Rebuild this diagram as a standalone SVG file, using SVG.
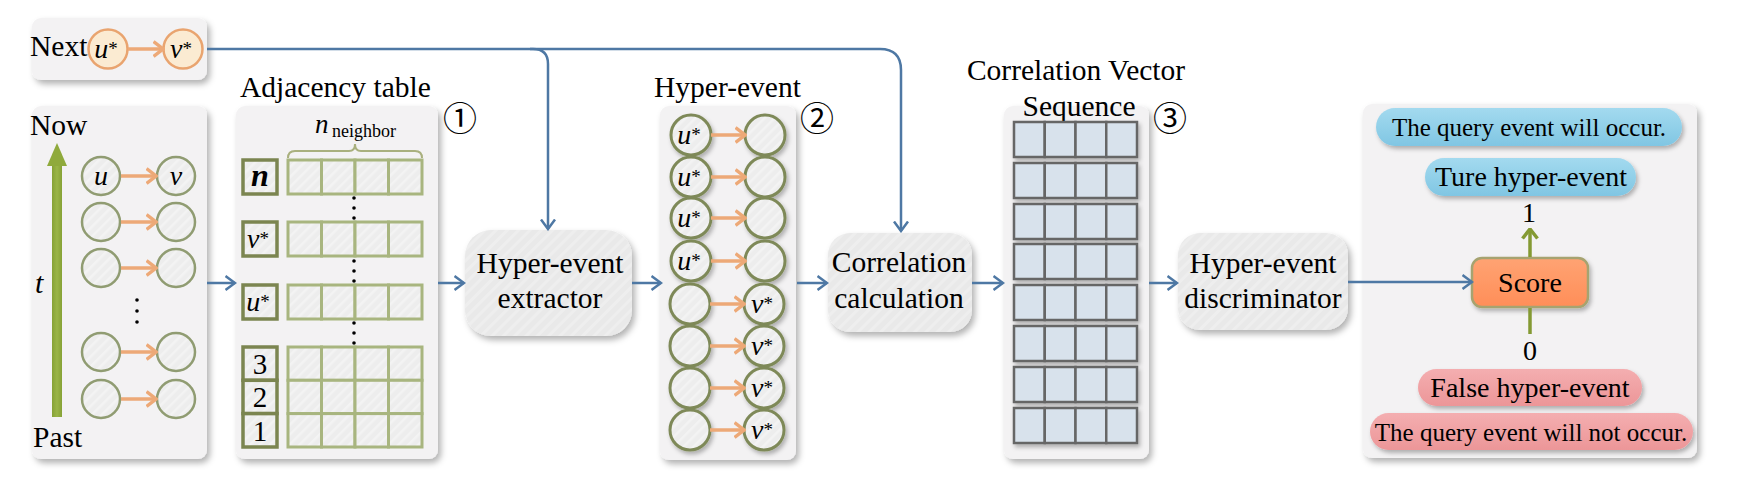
<svg xmlns="http://www.w3.org/2000/svg" width="1748" height="498" viewBox="0 0 1748 498" font-family="'Liberation Serif', 'Times New Roman', Times, serif">
<defs>
<filter id="sh" x="-20%" y="-20%" width="140%" height="140%"><feDropShadow dx="3" dy="4" stdDeviation="3" flood-color="#000" flood-opacity="0.3"/></filter>
<filter id="sh2" x="-30%" y="-30%" width="160%" height="160%"><feDropShadow dx="2" dy="3" stdDeviation="2" flood-color="#000" flood-opacity="0.28"/></filter>
<pattern id="hatch" patternUnits="userSpaceOnUse" width="7" height="7" patternTransform="rotate(45)">
<rect width="7" height="7" fill="#EDEDED"/><rect width="2.5" height="7" fill="#F3F3F3"/>
</pattern>
<pattern id="hatchB" patternUnits="userSpaceOnUse" width="8" height="8" patternTransform="rotate(45)">
<rect width="8" height="8" fill="#E9E9E9"/><rect width="3" height="8" fill="#EEEEEE"/>
</pattern>
<linearGradient id="blueG" x1="0" y1="0" x2="0" y2="1"><stop offset="0" stop-color="#A3DAEF"/><stop offset="1" stop-color="#80C6E3"/></linearGradient>
<linearGradient id="pinkG" x1="0" y1="0" x2="0" y2="1"><stop offset="0" stop-color="#F4AEB0"/><stop offset="1" stop-color="#EC9698"/></linearGradient>
<linearGradient id="orG" x1="0" y1="0" x2="0" y2="1"><stop offset="0" stop-color="#FFA373"/><stop offset="1" stop-color="#FF8E58"/></linearGradient>
<linearGradient id="grG" x1="0" y1="0" x2="1" y2="0"><stop offset="0" stop-color="#86A236"/><stop offset="0.5" stop-color="#9AB547"/><stop offset="1" stop-color="#86A236"/></linearGradient>
<marker id="ab" viewBox="0 0 12 16" refX="10.5" refY="8" markerWidth="12" markerHeight="16" markerUnits="userSpaceOnUse" orient="auto"><path d="M1,1 L10.5,8 L1,15" fill="none" stroke="#4E78A4" stroke-width="2.5"/></marker>
<marker id="ao" viewBox="0 0 12 18" refX="10.5" refY="9" markerWidth="12" markerHeight="18" markerUnits="userSpaceOnUse" orient="auto"><path d="M1,1.5 L10.5,9 L1,16.5" fill="none" stroke="#EDA977" stroke-width="3.5"/></marker>
<marker id="ag" viewBox="0 0 12 18" refX="10.5" refY="9" markerWidth="12" markerHeight="18" markerUnits="userSpaceOnUse" orient="auto"><path d="M1,1.5 L10.5,9 L1,16.5" fill="none" stroke="#849A33" stroke-width="3.5"/></marker>
<style>
text{fill:#000}
.ti{font-style:italic}
.cd{font-family:"Noto Sans CJK JP","DejaVu Sans",sans-serif}
.panel{fill:#F3F2F3}
.box{fill:url(#hatchB)}
.c1{fill:url(#hatch);stroke:#909C72;stroke-width:2.5}
.c2{fill:url(#hatch);stroke:#7E8958;stroke-width:3}
.cn{fill:#FBEBD2;stroke:#E9A46F;stroke-width:2.5}
.cell{fill:url(#hatch);stroke:#A8B57F;stroke-width:3}
.lab{fill:url(#hatch);stroke:#7B8550;stroke-width:3.5}
.vc{fill:#D8E2EC;stroke:#666;stroke-width:2.5}
.bl{fill:none;stroke:#4E78A4;stroke-width:2.5}
.or{fill:none;stroke:#EDA977;stroke-width:3.5}
.gr{fill:none;stroke:#849A33;stroke-width:3.5}
.dot{fill:#000}
</style>
</defs>

<g id="next">
<rect class="panel" x="32" y="18" width="175" height="62" rx="9" filter="url(#sh)"/>
<text x="30" y="56" font-size="29.5">Next</text>
<circle class="cn" cx="108" cy="49" r="19.5"/>
<circle class="cn" cx="183" cy="49" r="19.5"/>
<text class="ti" x="106" y="58" font-size="28" text-anchor="middle">u<tspan font-size="19" font-style="normal" dy="-3">*</tspan></text>
<text class="ti" x="181" y="58" font-size="28" text-anchor="middle">v<tspan font-size="19" font-style="normal" dy="-3">*</tspan></text>
</g>

<g id="history">
<rect class="panel" x="32" y="106" width="175" height="353" rx="9" filter="url(#sh)"/>
<text x="30" y="135" font-size="29.5">Now</text>
<text x="33" y="447" font-size="29.5">Past</text>
<text class="ti" x="35" y="293" font-size="30">t</text>
<rect x="52" y="164" width="10" height="253" fill="url(#grG)"/>
<polygon points="57,143 67,166 47,166" fill="#8FAA3C"/>
<circle class="c1" cx="101" cy="176" r="19"/><circle class="c1" cx="176" cy="176" r="19"/>
<circle class="c1" cx="101" cy="222" r="19"/><circle class="c1" cx="176" cy="222" r="19"/>
<circle class="c1" cx="101" cy="268" r="19"/><circle class="c1" cx="176" cy="268" r="19"/>
<circle class="c1" cx="101" cy="352" r="19"/><circle class="c1" cx="176" cy="352" r="19"/>
<circle class="c1" cx="101" cy="399" r="19"/><circle class="c1" cx="176" cy="399" r="19"/>
<text class="ti" x="101" y="185" font-size="28" text-anchor="middle">u</text>
<text class="ti" x="176" y="185" font-size="28" text-anchor="middle">v</text>
<circle class="dot" cx="137" cy="300" r="1.8"/><circle class="dot" cx="137" cy="311" r="1.8"/><circle class="dot" cx="137" cy="322" r="1.8"/>
</g>

<g id="adjacency">
<text x="240" y="97" font-size="29.5">Adjacency table</text>
<rect class="panel" x="236" y="106" width="202" height="353" rx="9" filter="url(#sh)"/>
<text class="cd" x="460" y="131" font-size="34" text-anchor="middle">①</text>
<text class="ti" x="315" y="133" font-size="27">n</text>
<text x="332" y="137" font-size="18">neighbor</text>
<path d="M288,158 Q288,151 295,151 H349 Q355,151 355,144 Q355,151 361,151 H415 Q422,151 422,158" fill="none" stroke="#A9B07E" stroke-width="2"/>
<g>
<rect class="cell" x="288" y="160" width="33.5" height="34"/><rect class="cell" x="321.5" y="160" width="33.5" height="34"/><rect class="cell" x="355" y="160" width="33.5" height="34"/><rect class="cell" x="388.5" y="160" width="33.5" height="34"/>
<rect class="cell" x="288" y="222" width="33.5" height="34"/><rect class="cell" x="321.5" y="222" width="33.5" height="34"/><rect class="cell" x="355" y="222" width="33.5" height="34"/><rect class="cell" x="388.5" y="222" width="33.5" height="34"/>
<rect class="cell" x="288" y="285" width="33.5" height="34"/><rect class="cell" x="321.5" y="285" width="33.5" height="34"/><rect class="cell" x="355" y="285" width="33.5" height="34"/><rect class="cell" x="388.5" y="285" width="33.5" height="34"/>
<rect class="cell" x="288" y="347" width="33.5" height="33.3"/><rect class="cell" x="321.5" y="347" width="33.5" height="33.3"/><rect class="cell" x="355" y="347" width="33.5" height="33.3"/><rect class="cell" x="388.5" y="347" width="33.5" height="33.3"/>
<rect class="cell" x="288" y="380.3" width="33.5" height="33.3"/><rect class="cell" x="321.5" y="380.3" width="33.5" height="33.3"/><rect class="cell" x="355" y="380.3" width="33.5" height="33.3"/><rect class="cell" x="388.5" y="380.3" width="33.5" height="33.3"/>
<rect class="cell" x="288" y="413.6" width="33.5" height="33.4"/><rect class="cell" x="321.5" y="413.6" width="33.5" height="33.4"/><rect class="cell" x="355" y="413.6" width="33.5" height="33.4"/><rect class="cell" x="388.5" y="413.6" width="33.5" height="33.4"/>
</g>
<rect class="lab" x="243" y="160" width="34" height="34"/>
<rect class="lab" x="243" y="222" width="34" height="34"/>
<rect class="lab" x="243" y="285" width="34" height="34"/>
<rect class="lab" x="243" y="347" width="34" height="33.3"/>
<rect class="lab" x="243" y="380.3" width="34" height="33.3"/>
<rect class="lab" x="243" y="413.6" width="34" height="33.4"/>
<text class="ti" x="260" y="186" font-size="32" font-weight="bold" text-anchor="middle">n</text>
<text class="ti" x="258" y="248" font-size="28" text-anchor="middle">v<tspan font-size="19" font-style="normal" dy="-3">*</tspan></text>
<text class="ti" x="258" y="311" font-size="28" text-anchor="middle">u<tspan font-size="19" font-style="normal" dy="-3">*</tspan></text>
<text x="260" y="374" font-size="29" text-anchor="middle">3</text>
<text x="260" y="407" font-size="29" text-anchor="middle">2</text>
<text x="260" y="441" font-size="29" text-anchor="middle">1</text>
<circle class="dot" cx="354" cy="198" r="1.8"/><circle class="dot" cx="354" cy="208" r="1.8"/><circle class="dot" cx="354" cy="218" r="1.8"/>
<circle class="dot" cx="354" cy="261" r="1.8"/><circle class="dot" cx="354" cy="271" r="1.8"/><circle class="dot" cx="354" cy="281" r="1.8"/>
<circle class="dot" cx="354" cy="323" r="1.8"/><circle class="dot" cx="354" cy="333" r="1.8"/><circle class="dot" cx="354" cy="343" r="1.8"/>
</g>

<g id="extractor">
<rect class="box" x="465" y="230" width="167" height="106" rx="26" filter="url(#sh)"/>
<text x="550" y="273" font-size="29.5" text-anchor="middle">Hyper-event</text>
<text x="550" y="308" font-size="29.5" text-anchor="middle">extractor</text>
</g>

<g id="hyperevent">
<text x="654" y="97" font-size="29.5">Hyper-event</text>
<rect class="panel" x="660" y="106" width="136" height="354" rx="9" filter="url(#sh)"/>
<text class="cd" x="817" y="131" font-size="34" text-anchor="middle">②</text>
<g filter="url(#sh2)">
<circle class="c2" cx="691" cy="135" r="20"/><circle class="c2" cx="765" cy="135" r="20"/>
<circle class="c2" cx="691" cy="177" r="20"/><circle class="c2" cx="765" cy="177" r="20"/>
<circle class="c2" cx="691" cy="218" r="20"/><circle class="c2" cx="765" cy="218" r="20"/>
<circle class="c2" cx="691" cy="261" r="20"/><circle class="c2" cx="765" cy="261" r="20"/>
<circle class="c2" cx="690" cy="304" r="20"/><circle class="c2" cx="764" cy="304" r="20"/>
<circle class="c2" cx="690" cy="346" r="20"/><circle class="c2" cx="764" cy="346" r="20"/>
<circle class="c2" cx="690" cy="388" r="20"/><circle class="c2" cx="764" cy="388" r="20"/>
<circle class="c2" cx="690" cy="430" r="20"/><circle class="c2" cx="764" cy="430" r="20"/>
</g>
<text class="ti" x="689" y="144" font-size="28" text-anchor="middle">u<tspan font-size="19" font-style="normal" dy="-3">*</tspan></text>
<text class="ti" x="689" y="186" font-size="28" text-anchor="middle">u<tspan font-size="19" font-style="normal" dy="-3">*</tspan></text>
<text class="ti" x="689" y="227" font-size="28" text-anchor="middle">u<tspan font-size="19" font-style="normal" dy="-3">*</tspan></text>
<text class="ti" x="689" y="270" font-size="28" text-anchor="middle">u<tspan font-size="19" font-style="normal" dy="-3">*</tspan></text>
<text class="ti" x="762" y="313" font-size="28" text-anchor="middle">v<tspan font-size="19" font-style="normal" dy="-3">*</tspan></text>
<text class="ti" x="762" y="355" font-size="28" text-anchor="middle">v<tspan font-size="19" font-style="normal" dy="-3">*</tspan></text>
<text class="ti" x="762" y="397" font-size="28" text-anchor="middle">v<tspan font-size="19" font-style="normal" dy="-3">*</tspan></text>
<text class="ti" x="762" y="439" font-size="28" text-anchor="middle">v<tspan font-size="19" font-style="normal" dy="-3">*</tspan></text>
</g>

<g id="correlation">
<rect class="box" x="828" y="233" width="144" height="99" rx="22" filter="url(#sh)"/>
<text x="899" y="272" font-size="29.5" text-anchor="middle">Correlation</text>
<text x="899" y="308" font-size="29.5" text-anchor="middle">calculation</text>
</g>

<g id="cvs">
<text x="1076" y="80" font-size="29.5" text-anchor="middle">Correlation Vector</text>
<rect class="panel" x="1004" y="106" width="145" height="353" rx="9" filter="url(#sh)"/>
<text x="1079" y="116" font-size="29.5" text-anchor="middle">Sequence</text>
<text class="cd" x="1170" y="131" font-size="34" text-anchor="middle">③</text>
<g filter="url(#sh2)">
<g id="vrow"><rect class="vc" x="1014" y="122" width="30.75" height="35"/><rect class="vc" x="1044.75" y="122" width="30.75" height="35"/><rect class="vc" x="1075.5" y="122" width="30.75" height="35"/><rect class="vc" x="1106.25" y="122" width="30.75" height="35"/></g>
<use href="#vrow" y="41"/><use href="#vrow" y="82"/><use href="#vrow" y="122"/><use href="#vrow" y="163"/><use href="#vrow" y="204"/><use href="#vrow" y="245"/><use href="#vrow" y="286"/>
</g>
</g>

<g id="discriminator">
<rect class="box" x="1178" y="233" width="170" height="97" rx="22" filter="url(#sh)"/>
<text x="1263" y="273" font-size="29.5" text-anchor="middle">Hyper-event</text>
<text x="1263" y="308" font-size="29.5" text-anchor="middle">discriminator</text>
</g>

<g id="output">
<rect class="panel" x="1363" y="104" width="334" height="354" rx="9" filter="url(#sh)"/>
<rect x="1376" y="108" width="306" height="38" rx="19" fill="url(#blueG)" filter="url(#sh2)"/>
<text x="1529" y="136" font-size="25" text-anchor="middle">The query event will occur.</text>
<rect x="1425" y="158" width="211" height="38" rx="19" fill="url(#blueG)" filter="url(#sh2)"/>
<text x="1531" y="186" font-size="28" text-anchor="middle">Ture hyper-event</text>
<text x="1529" y="222" font-size="28" text-anchor="middle">1</text>
<rect x="1472" y="258" width="116" height="49" rx="10" fill="url(#orG)" stroke="#A6A370" stroke-width="2.5" filter="url(#sh2)"/>
<text x="1530" y="292" font-size="28" text-anchor="middle">Score</text>
<text x="1530" y="360" font-size="28" text-anchor="middle">0</text>
<rect x="1418" y="369" width="224" height="37" rx="18.5" fill="url(#pinkG)" filter="url(#sh2)"/>
<text x="1530" y="397" font-size="28" text-anchor="middle">False hyper-event</text>
<rect x="1370" y="413" width="323" height="37" rx="18.5" fill="url(#pinkG)" filter="url(#sh2)"/>
<text x="1531" y="441" font-size="25" text-anchor="middle">The query event will not occur.</text>
</g>

<g id="connectors">
<path class="bl" d="M207,49 H533 Q548,49 548,64 V229" marker-end="url(#ab)"/>
<path class="bl" d="M530,49 H880 Q901,49 901,70 V231" marker-end="url(#ab)"/>
<path class="bl" d="M207,283 H235" marker-end="url(#ab)"/>
<path class="bl" d="M438,283 H464" marker-end="url(#ab)"/>
<path class="bl" d="M632,283 H661" marker-end="url(#ab)"/>
<path class="bl" d="M797,283 H827" marker-end="url(#ab)"/>
<path class="bl" d="M972,283 H1003" marker-end="url(#ab)"/>
<path class="bl" d="M1149,283 H1177" marker-end="url(#ab)"/>
<path class="bl" d="M1348,282 H1472" marker-end="url(#ab)"/>
<path class="or" d="M128,49 H163" marker-end="url(#ao)"/>
<path class="or" d="M121,176 H156" marker-end="url(#ao)"/>
<path class="or" d="M121,222 H156" marker-end="url(#ao)"/>
<path class="or" d="M121,268 H156" marker-end="url(#ao)"/>
<path class="or" d="M121,352 H156" marker-end="url(#ao)"/>
<path class="or" d="M121,399 H156" marker-end="url(#ao)"/>
<path class="or" d="M711,135 H745" marker-end="url(#ao)"/>
<path class="or" d="M711,177 H745" marker-end="url(#ao)"/>
<path class="or" d="M711,218 H745" marker-end="url(#ao)"/>
<path class="or" d="M711,261 H745" marker-end="url(#ao)"/>
<path class="or" d="M710,304 H744" marker-end="url(#ao)"/>
<path class="or" d="M710,346 H744" marker-end="url(#ao)"/>
<path class="or" d="M710,388 H744" marker-end="url(#ao)"/>
<path class="or" d="M710,430 H744" marker-end="url(#ao)"/>
<path class="gr" d="M1530,257 V229" marker-end="url(#ag)"/>
<path class="gr" d="M1530,308 V334"/>
</g>
</svg>
